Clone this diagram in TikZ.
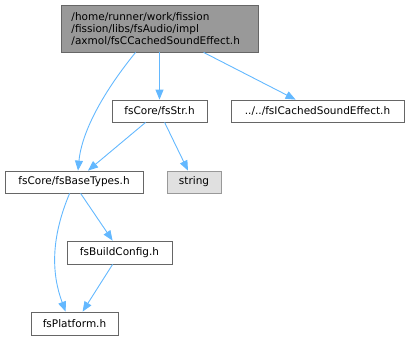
\documentclass[tikz,border=0pt]{standalone}
\usepackage{fontspec}
\setmainfont{DejaVu Sans}
\usetikzlibrary{arrows.meta,calc}
\definecolor{edgeblue}{HTML}{63B8FF}
\definecolor{boxborder}{HTML}{666666}
\definecolor{rootfill}{HTML}{999999}
\definecolor{extfill}{HTML}{E0E0E0}
\definecolor{extborder}{HTML}{999999}
\begin{document}
\begin{tikzpicture}[x=1bp,y=-1bp,
  filebox/.style={draw=boxborder,fill=white,line width=0.8bp,inner sep=0pt,
    font=\fontsize{10.5bp}{12bp}\selectfont},
  rootbox/.style={filebox,fill=rootfill},
  extbox/.style={filebox,draw=extborder,fill=extfill},
  dep/.style={draw=edgeblue,line width=0.9bp,-{Triangle[length=10bp,width=8bp]}}
]
\useasboundingbox (0,0) rectangle (409,340);
\node[rootbox,minimum width=197bp,minimum height=47bp,align=left] (root) at (159.5,28.5)
  {\parbox{176bp}{/home/runner/work/fission\\/fission/libs/fsAudio/impl\\/axmol/fsCCachedSoundEffect.h}};
\node[filebox,minimum width=95bp,minimum height=22bp] (str) at (159.5,111) {fsCore/fsStr.h};
\node[filebox,minimum width=173bp,minimum height=22bp] (icached) at (317.5,111) {../../fsICachedSoundEffect.h};
\node[filebox,minimum width=138bp,minimum height=22bp] (base) at (74,182) {fsCore/fsBaseTypes.h};
\node[extbox,minimum width=54bp,minimum height=22bp] (string) at (194,182) {string};
\node[filebox,minimum width=105bp,minimum height=23bp] (build) at (119.5,252.5) {fsBuildConfig.h};
\node[filebox,minimum width=87bp,minimum height=23bp] (plat) at (74.5,323.5) {fsPlatform.h};

\draw[dep] ($(root.south west)+(75,0)$) .. controls (105,90) and (82,130) .. ($(base.north)+(4,0)$);
\draw[dep] (root.south) -- (str.north);
\draw[dep] ($(root.south west)+(143,0)$) -- ($(icached.north west)+(65,0)$);
\draw[dep] ($(str.south west)+(34,0)$) -- ($(base.north)+(14,0)$);
\draw[dep] ($(str.south west)+(53,0)$) -- ($(string.north)+(-6,0)$);
\draw[dep] ($(base.south west)+(76,0)$) -- ($(build.north west)+(46,0)$);
\draw[dep] ($(base.south west)+(65,0)$) .. controls (50,240) and (52,275) .. ($(plat.north west)+(35,0)$);
\draw[dep] ($(build.south west)+(46,0)$) -- ($(plat.north west)+(52,0)$);
\end{tikzpicture}
\end{document}
